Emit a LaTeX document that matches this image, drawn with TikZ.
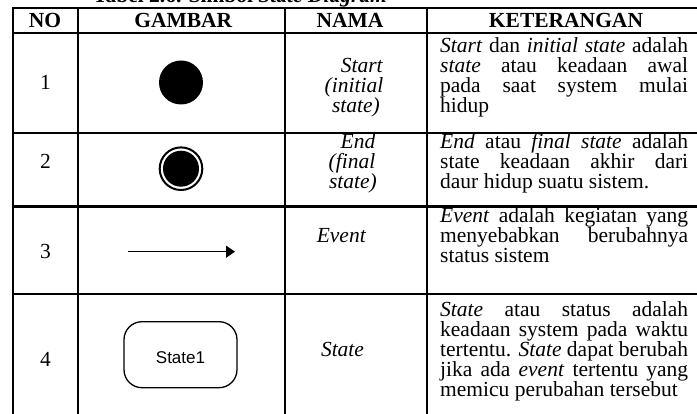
\documentclass[tikz,border=0pt]{standalone}
\usepackage{fontspec}
\setmainfont{Liberation Serif}
\newfontfamily\arialf{Liberation Sans}
\usetikzlibrary{arrows.meta}
\begin{document}
\begin{tikzpicture}[x=1pt,y=-1pt,
  grid/.style={line width=2.3pt},
  txt/.style={inner sep=0pt, font={\fontsize{21.5}{20}\selectfont\tolerance=10000\hbadness=10000\hyphenpenalty=10000}},
  hdr/.style={inner sep=0pt, anchor=base, font={\fontsize{21.5}{20}\selectfont\bfseries}},
  cell/.style={txt, anchor=base},
  para/.style={txt, anchor=base west, text width=248pt, align=justify},
  dot/.style={circle, fill=black, inner sep=0pt},
]
\useasboundingbox (0,0) rectangle (697,414);
% caption (cut off at the top)
\node[inner sep=0pt, anchor=base west, font={\fontsize{21.5}{20}\selectfont\bfseries}] (cap) at (93,3) {Tabel 2.6. Simbol \textit{State Diagram}};
% grid
\draw[grid] (12.7,8) -- (697,8);
\draw[grid] (12.7,33) -- (697,33);
\draw[grid] (12.7,132.7) -- (697,132.7);
\draw[grid] (12.7,206.5) -- (697,206.5);
\draw[grid] (12.7,294.3) -- (697,294.3);
\foreach \x in {12.7,77.7,285,427} \draw[grid] (\x,6.85) -- (\x,414);
% header
\node[hdr] (hno) at (45,27.5) {NO};
\node[hdr] (hgb) at (183.3,27.5) {GAMBAR};
\node[hdr] (hnm) at (350,27.5) {NAMA};
\node[hdr] (hkt) at (566,27.5) {KETERANGAN};
% numbers
\node[cell] (n1) at (45.5,90) {1};
\node[cell] (n2) at (45.5,168.5) {2};
\node[cell] (n3) at (45.5,259) {3};
\node[cell] (n4) at (45.5,366.7) {4};
% symbols
\node[dot, minimum size=44pt] (start) at (181,82.5) {};
\node[circle, draw=black, line width=2pt, inner sep=0pt, minimum size=42.6pt] (endo) at (181,168.7) {};
\node[dot, minimum size=36pt] (endi) at (181,168.7) {};
\coordinate (ea) at (128,251.7);
\coordinate (eb) at (235,251.7);
\draw[line width=1.2pt, -{Triangle[length=9pt,width=12pt]}] (ea) -- (eb);
\node[draw=black, line width=1.3pt, rounded corners=18pt, minimum width=113pt, minimum height=66pt, inner sep=0pt, text height=18pt, text depth=0pt, font={\arialf\fontsize{17}{20}\selectfont}] (st) at (180.5,354.7) {State1};
% names
\node[cell] (na1) at (362,73) {\textit{Start}};
\node[cell] (na2) at (354,93) {\textit{(initial}};
\node[cell] (na3) at (356,113) {\textit{state)}};
\node[cell] (nb1) at (358,149) {\textit{End}};
\node[cell] (nb2) at (352,169) {\textit{(final}};
\node[cell] (nb3) at (353,189) {\textit{state)}};
\node[cell] (nc1) at (341.5,243) {\textit{Event}};
\node[cell] (nd1) at (342.5,356.7) {\textit{State}};
% descriptions
\node[para] (k1) at (440,53) {\textit{Start} dan \textit{initial state} adalah\linebreak \textit{state} atau keadaan awal\linebreak pada saat system mulai\linebreak hidup};
\node[para] (k2) at (440,149) {\textit{End} atau \textit{final state} adalah\linebreak state keadaan akhir dari\linebreak daur hidup suatu sistem.};
\node[para] (k3) at (440,223) {\textit{Event} adalah kegiatan yang\linebreak menyebabkan berubahnya\linebreak status sistem};
\node[para] (k4) at (440,316.7) {\parfillskip=0pt \textit{State} atau status adalah\linebreak keadaan system pada waktu\linebreak tertentu. \textit{State} dapat berubah\linebreak jika ada \textit{event} tertentu yang\linebreak memicu perubahan tersebut};
\end{tikzpicture}
\end{document}
